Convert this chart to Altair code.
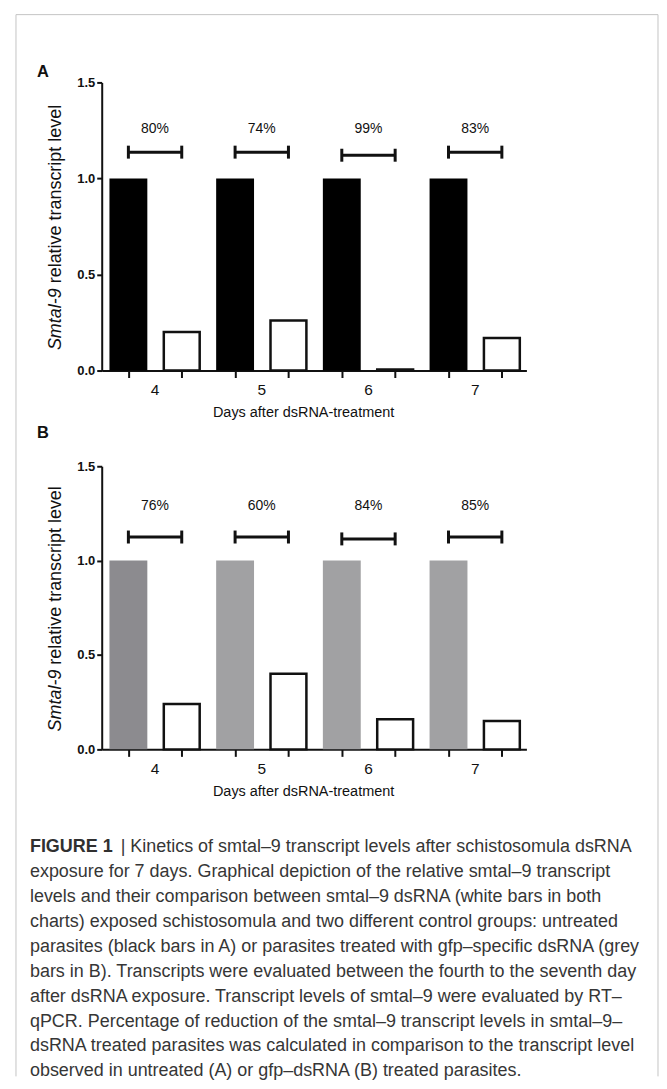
import altair as alt
import pandas as pd

# ---------------- data ----------------
days = [4, 5, 6, 7]

control_a = [1.0, 1.0, 1.0, 1.0]
smtal_a = [0.20, 0.26, 0.005, 0.17]
pct_a = ["80%", "74%", "99%", "83%"]
bracket_a = [1.137, 1.137, 1.121, 1.137]
ctrl_color_a = ["#000000", "#000000", "#000000", "#000000"]

control_b = [1.0, 1.0, 1.0, 1.0]
smtal_b = [0.24, 0.40, 0.16, 0.15]
pct_b = ["76%", "60%", "84%", "85%"]
bracket_b = [1.125, 1.125, 1.115, 1.125]
ctrl_color_b = ["#8c8b8f", "#a1a1a3", "#a1a1a3", "#a1a1a3"]

y_ticks = [0.0, 0.5, 1.0, 1.5]
x_title = "Days after dsRNA-treatment"
y_title_italic = "Smtal-9"
y_title_rest = "relative transcript level"

caption_head = "FIGURE 1"
caption_lines = [
    "| Kinetics of smtal\u20139 transcript levels after schistosomula dsRNA",
    "exposure for 7 days. Graphical depiction of the relative smtal\u20139 transcript",
    "levels and their comparison between smtal\u20139 dsRNA (white bars in both",
    "charts) exposed schistosomula and two different control groups: untreated",
    "parasites (black bars in A) or parasites treated with gfp\u2013specific dsRNA (grey",
    "bars in B). Transcripts were evaluated between the fourth to the seventh day",
    "after dsRNA exposure. Transcript levels of smtal\u20139 were evaluated by RT\u2013",
    "qPCR. Percentage of reduction of the smtal\u20139 transcript levels in smtal\u20139\u2013",
    "dsRNA treated parasites was calculated in comparison to the transcript level",
    "observed in untreated (A) or gfp\u2013dsRNA (B) treated parasites.",
]

# ---------------- layout / style ----------------
W = 426
OFF = 0.25          # half distance between the two bars of a day
FONT = "Liberation Sans"
BLACK = "#111111"


def panel(control, smtal, pct, bracket, ctrl_colors, letter, h, letter_y, pct_y,
          border=False):
    ctrl_df = pd.DataFrame({"pos": [d - OFF for d in days], "y": control,
                            "c": ctrl_colors})
    smtal_df = pd.DataFrame({"pos": [d + OFF for d in days], "y": smtal})
    br_df = pd.DataFrame({"pos": [d - OFF for d in days],
                          "pos2": [d + OFF for d in days], "y": bracket})
    cap_df = pd.DataFrame({"pos": [d - OFF for d in days] + [d + OFF for d in days],
                           "y": bracket + bracket})
    pct_df = pd.DataFrame({"pos": days, "y": [pct_y] * 4, "t": pct})
    day_df = pd.DataFrame({"pos": days, "t": [str(d) for d in days]})

    tick_pos = sorted([d - OFF for d in days] + [d + OFF for d in days])
    x_enc = alt.X("pos:Q",
                  scale=alt.Scale(domain=[3.5, 7.48], nice=False, zero=False, padding=0),
                  axis=alt.Axis(values=tick_pos, labels=False, ticks=True,
                                tickSize=7, tickWidth=2, tickColor=BLACK,
                                domainColor=BLACK, domainWidth=2, grid=False,
                                title=x_title, titleFontSize=14.5,
                                titleFontWeight="normal", titleColor=BLACK,
                                titleX=202, titleY=46, titleBaseline="alphabetic",
                                titleAlign="center", titleAnchor="start"))
    y_enc = alt.Y("y:Q", scale=alt.Scale(domain=[0, 1.5], nice=False, padding=0),
                  axis=alt.Axis(values=y_ticks, format=".1f", labelFontWeight="bold",
                                labelFontSize=13, labelColor=BLACK, labelPadding=2,
                                tickSize=5, tickWidth=2, tickColor=BLACK,
                                domainWidth=2, domainColor=BLACK, grid=False,
                                title=None))

    ctrl = alt.Chart(ctrl_df).mark_bar(size=38).encode(
        x=x_enc, y=y_enc, color=alt.Color("c:N", scale=None))
    sm = alt.Chart(smtal_df).mark_bar(size=36, fill="white", stroke=BLACK,
                                      strokeWidth=2.5).encode(x=x_enc, y=y_enc)
    br = alt.Chart(br_df).mark_rule(strokeWidth=3, color=BLACK).encode(
        x=x_enc, x2="pos2:Q", y=y_enc)
    caps = alt.Chart(cap_df).mark_tick(orient="vertical", size=13, thickness=3,
                                       color=BLACK, opacity=1).encode(x=x_enc, y=y_enc)
    pct_t = alt.Chart(pct_df).mark_text(fontSize=14, baseline="alphabetic",
                                        color=BLACK).encode(x=x_enc, y=y_enc, text="t:N")
    day_t = alt.Chart(day_df).mark_text(fontSize=15.5, baseline="alphabetic",
                                        color=BLACK).encode(
        x=x_enc, y=alt.value(h + 25), text="t:N")

    one = pd.DataFrame({"k": [0]})
    let = alt.Chart(one).mark_text(text=letter, fontSize=16.5, fontWeight="bold",
                                   align="left", baseline="alphabetic",
                                   color=BLACK).encode(
        x=alt.value(-65), y=alt.value(letter_y))
    junction = h / 2 + 62
    yt1 = alt.Chart(one).mark_text(text=y_title_italic, fontSize=18, fontStyle="italic",
                                   angle=270, align="right", baseline="middle",
                                   color=BLACK).encode(
        x=alt.value(-46), y=alt.value(junction))
    yt2 = alt.Chart(one).mark_text(text=y_title_rest, fontSize=18, angle=270,
                                   align="left", baseline="middle",
                                   color=BLACK).encode(
        x=alt.value(-46), y=alt.value(junction - 5))

    layers = [ctrl, sm, br, caps, pct_t, day_t, let, yt1, yt2]
    if border:
        bcol = "#c4c4c4"
        top = alt.Chart(one).mark_rule(color=bcol, strokeWidth=1).encode(
            x=alt.value(-86), x2=alt.value(558), y=alt.value(-68))
        left = alt.Chart(one).mark_rule(color=bcol, strokeWidth=1).encode(
            x=alt.value(-86), y=alt.value(-68), y2=alt.value(997))
        right = alt.Chart(one).mark_rule(color=bcol, strokeWidth=1).encode(
            x=alt.value(558), y=alt.value(-68), y2=alt.value(997))
        layers = [top, left, right] + layers
    return alt.layer(*layers).properties(width=W, height=h)


pa = panel(control_a, smtal_a, pct_a, bracket_a, ctrl_color_a, "A", 289, -5, 1.235,
           border=True)
pb = panel(control_b, smtal_b, pct_b, bracket_b, ctrl_color_b, "B", 284, -28, 1.268)

LINE = 25.0
CAP_FS = 18
cap_df = pd.DataFrame({"i": list(range(len(caption_lines))), "t": caption_lines})
cap_df["x"] = [1 if i == 0 else 0 for i in range(len(caption_lines))]
cap_y = alt.Y("i:Q", scale=alt.Scale(domain=[0, 9], range=[7, 7 + 9 * LINE]),
              axis=None)
cap_x = alt.X("x:Q", scale=alt.Scale(domain=[0, 1], range=[-72, 19]), axis=None)
cap_text = alt.Chart(cap_df).mark_text(fontSize=CAP_FS, align="left",
                                       baseline="alphabetic", color="#363636").encode(
    x=cap_x, y=cap_y, text="t:N")
head_df = pd.DataFrame({"i": [0], "x": [0], "t": [caption_head]})
cap_head = alt.Chart(head_df).mark_text(fontSize=CAP_FS, fontWeight="bold", align="left",
                                        baseline="alphabetic", color="#303030").encode(
    x=cap_x, y=cap_y, text="t:N")
caption = alt.layer(cap_text, cap_head).properties(width=W, height=10)

chart = alt.vconcat(pa, pb, caption, spacing=96, bounds="flush").properties(
    padding={"left": 7, "top": 4, "right": 0, "bottom": 0}
).configure(font=FONT).configure_view(stroke=None)

chart.save("out.html", embed_options={"renderer": "svg", "actions": False})
